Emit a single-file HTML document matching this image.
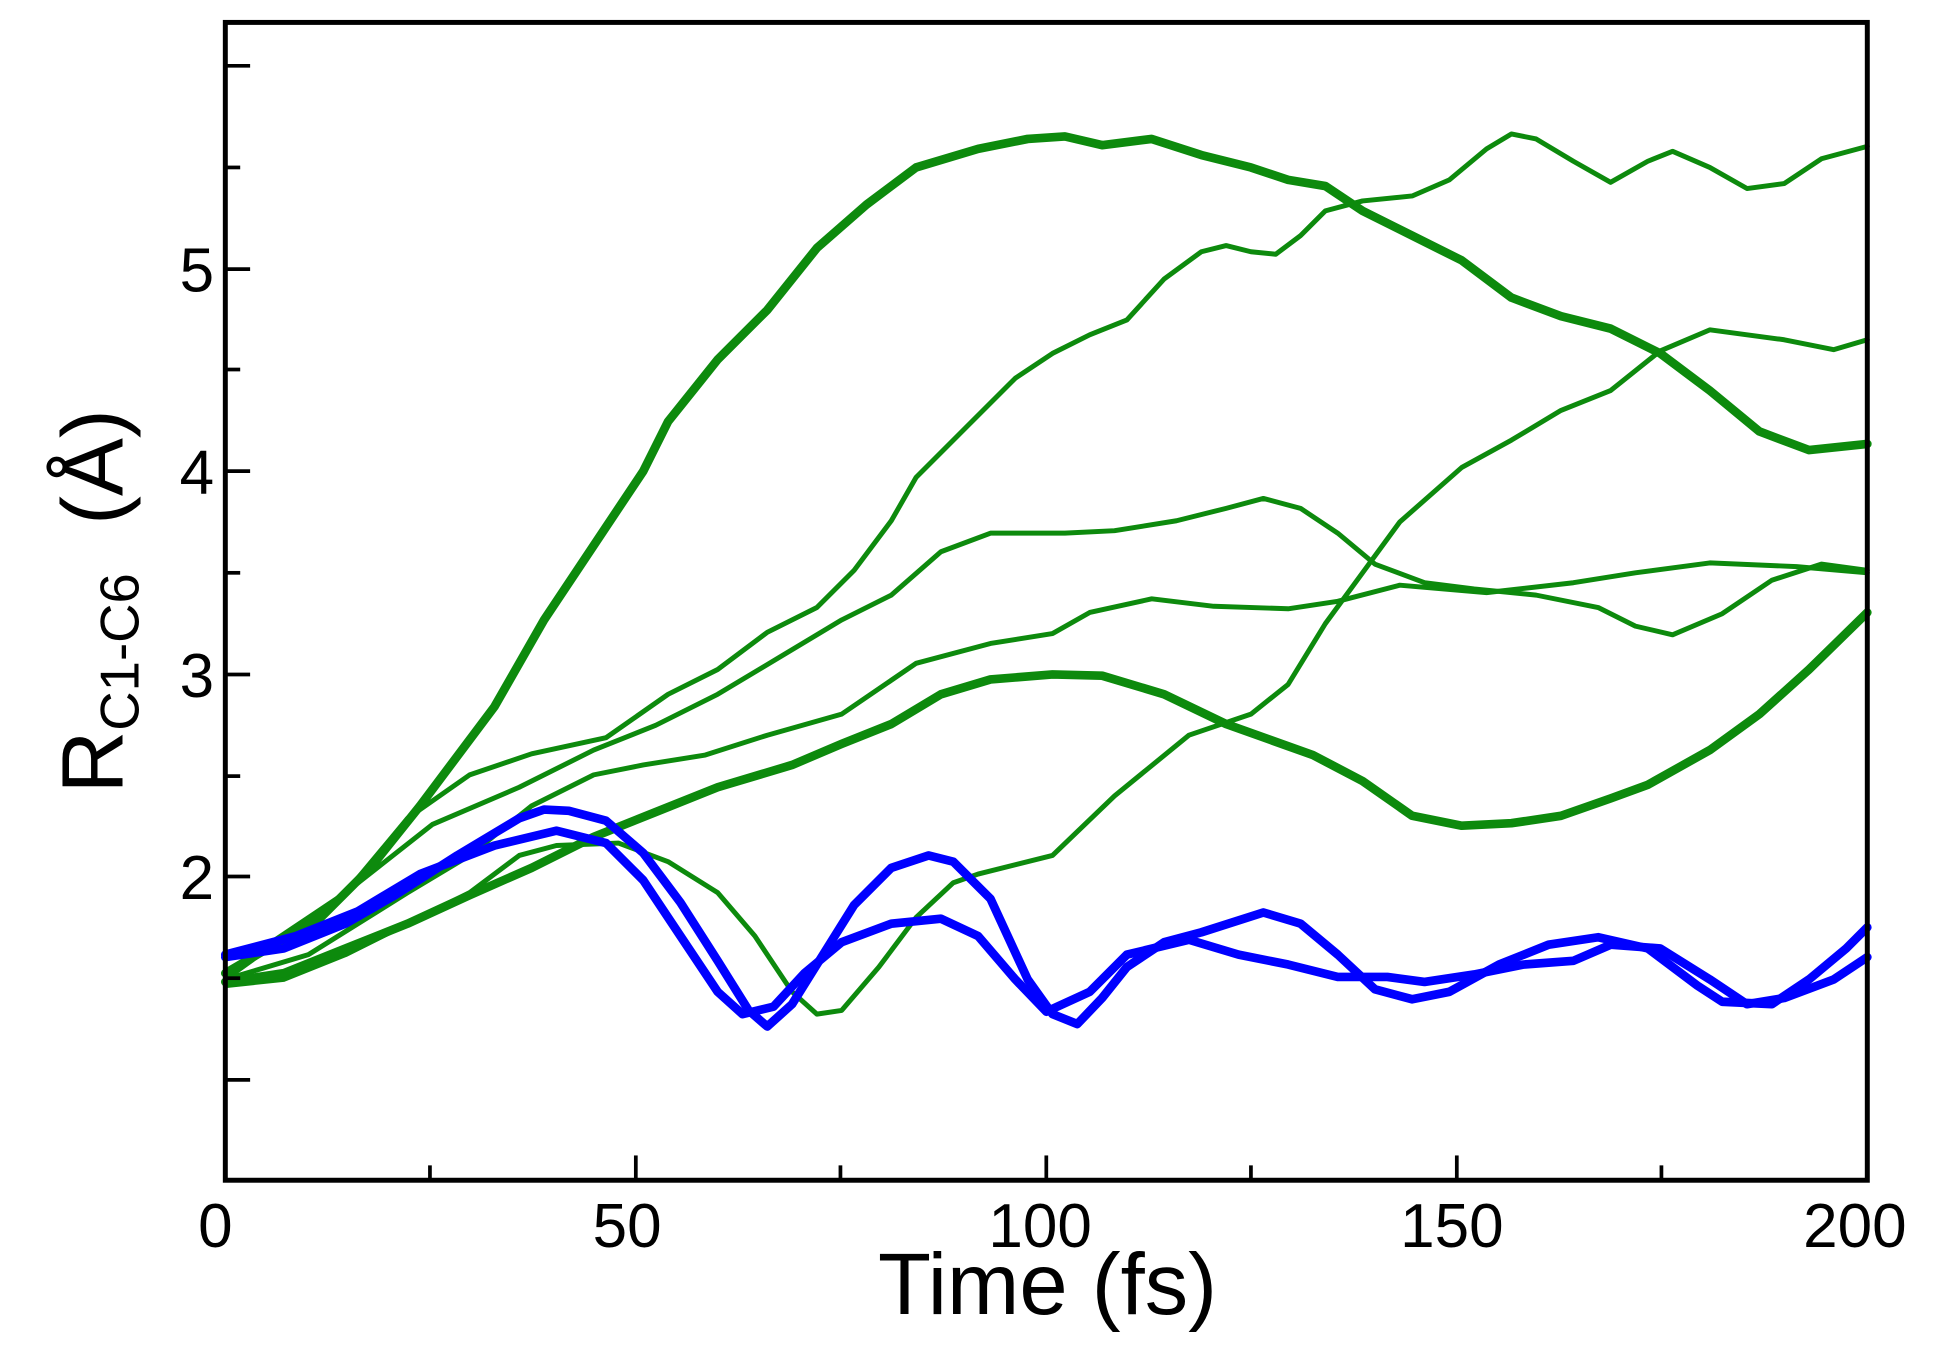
<!DOCTYPE html>
<html><head><meta charset="utf-8"><style>html,body{margin:0;padding:0;background:#fff}svg{display:block}</style></head>
<body>
<svg width="1942" height="1362" viewBox="0 0 1560 1094" preserveAspectRatio="none" xmlns="http://www.w3.org/2000/svg" font-family="Liberation Sans, sans-serif">
<rect width="1560" height="1094" fill="#fff"/>
<g transform="matrix(0.99622 0 0 0.99572 -1.31 0.08)">
<g fill="none" stroke-linejoin="round" stroke-linecap="round">
<g stroke="#0d8a0d" stroke-width="4">
<polyline points="183,785 280,720 330,660 380,625 430,608 490,595 540,560 580,540 620,510 660,490 690,460 720,420 740,385 780,345 820,305 850,285 880,270 910,258 940,225 970,203 990,198 1010,203 1030,205 1050,190 1070,170 1100,162 1140,158 1170,145 1200,120 1220,108 1240,112 1270,130 1300,147 1330,130 1350,122 1380,135 1410,152 1440,148 1470,128 1507,118"/>
<polyline points="183,790 280,720 350,665 420,635 480,605 530,585 580,560 630,530 680,500 720,480 760,445 800,430 860,430 900,428 950,420 990,410 1020,402 1050,410 1080,430 1110,455 1150,470 1190,475 1240,480 1290,490 1320,505 1350,512 1390,495 1430,468 1470,455 1507,460"/>
<polyline points="183,795 230,790 280,770 330,745 380,720 420,690 450,682 500,680 540,695 580,720 610,755 640,800 660,818 680,815 710,780 740,740 770,712 790,705 850,690 900,642 960,593 1010,576 1040,552 1070,503 1100,462 1130,421 1180,377 1220,355 1260,331 1300,315 1340,283 1380,266 1410,270 1440,274 1480,282 1507,274"/>
<polyline points="183,790 250,770 330,720 380,690 430,650 480,625 520,617 570,609 620,593 680,576 740,535 800,519 850,511 880,494 930,483 980,489 1040,491 1080,485 1130,472 1200,478 1270,470 1320,462 1380,454 1450,457 1507,462"/>
</g>
<g stroke="#0d8a0d" stroke-width="7">
<polyline points="183,785 260,740 300,700 340,650 400,570 440,500 480,440 520,380 540,340 580,290 620,250 660,200 700,165 740,135 790,120 830,112 860,110 890,117 930,112 970,125 1010,135 1040,145 1070,150 1100,170 1140,190 1180,210 1220,240 1260,255 1300,265 1340,285 1380,315 1420,348 1460,363 1507,358"/>
<polyline points="183,792 230,785 280,765 330,745 380,722 430,700 480,675 530,655 580,635 640,617 680,600 720,584 760,560 800,548 850,544 890,545 940,560 990,584 1060,609 1100,630 1140,658 1180,666 1220,664 1260,658 1300,644 1330,633 1380,605 1420,576 1460,540 1507,494"/>
</g>
<g stroke="#0000ff" stroke-width="7">
<polyline points="183,772 230,765 280,745 320,722 370,690 420,660 440,653 460,654 490,662 520,688 550,728 580,775 605,815 620,828 640,810 665,770 690,730 720,700 750,690 770,695 800,725 830,790 850,818 870,826 890,805 910,780 940,760 970,752 1020,736 1050,745 1080,770 1110,798 1140,806 1170,800 1210,778 1250,762 1290,756 1330,765 1370,795 1390,808 1430,810 1460,790 1490,765 1507,748"/>
<polyline points="183,770 240,755 290,735 340,705 400,682 450,670 490,680 520,710 550,755 580,800 600,818 625,812 650,785 680,760 720,745 760,741 790,755 820,790 845,816 880,800 910,770 960,758 1000,770 1040,778 1080,788 1120,788 1150,792 1190,786 1230,778 1270,775 1300,762 1340,765 1380,790 1410,810 1440,805 1480,790 1507,772"/>
</g>
</g>
<rect x="183" y="18" width="1324" height="934" fill="none" stroke="#000" stroke-width="4"/>
<g stroke="#000" stroke-width="3">
<line x1="183" y1="53" x2="203" y2="53"/><line x1="183" y1="135" x2="195" y2="135"/>
<line x1="183" y1="217" x2="203" y2="217"/><line x1="183" y1="298" x2="195" y2="298"/>
<line x1="183" y1="380" x2="203" y2="380"/><line x1="183" y1="462" x2="195" y2="462"/>
<line x1="183" y1="544" x2="203" y2="544"/><line x1="183" y1="626" x2="195" y2="626"/>
<line x1="183" y1="707" x2="203" y2="707"/><line x1="183" y1="789" x2="195" y2="789"/>
<line x1="183" y1="871" x2="203" y2="871"/>
<line x1="348" y1="952" x2="348" y2="940"/><line x1="514" y1="952" x2="514" y2="932"/>
<line x1="679" y1="952" x2="679" y2="940"/><line x1="845" y1="952" x2="845" y2="932"/>
<line x1="1010" y1="952" x2="1010" y2="940"/><line x1="1176" y1="952" x2="1176" y2="932"/>
<line x1="1341" y1="952" x2="1341" y2="940"/>
</g>
<g font-size="50" fill="#000" text-anchor="end">
<text x="174" y="235">5</text><text x="174" y="398">4</text><text x="174" y="562">3</text><text x="174" y="725">2</text>
</g>
<g font-size="50" fill="#000" text-anchor="middle">
<text x="175" y="1006">0</text><text x="507" y="1006">50</text><text x="840" y="1006">100</text><text x="1172" y="1006">150</text><text x="1497" y="1006">200</text>
</g>
<text x="846" y="1060" font-size="70" text-anchor="middle">Time (fs)</text>
<g transform="translate(100,485) rotate(-90)">
<text x="0" y="0" font-size="70" text-anchor="middle"><tspan>R</tspan><tspan font-size="44" dy="13">C1-C6</tspan><tspan dy="-13" xml:space="preserve">  (Å)</tspan></text>
</g>
</g>
</svg>
</body></html>
